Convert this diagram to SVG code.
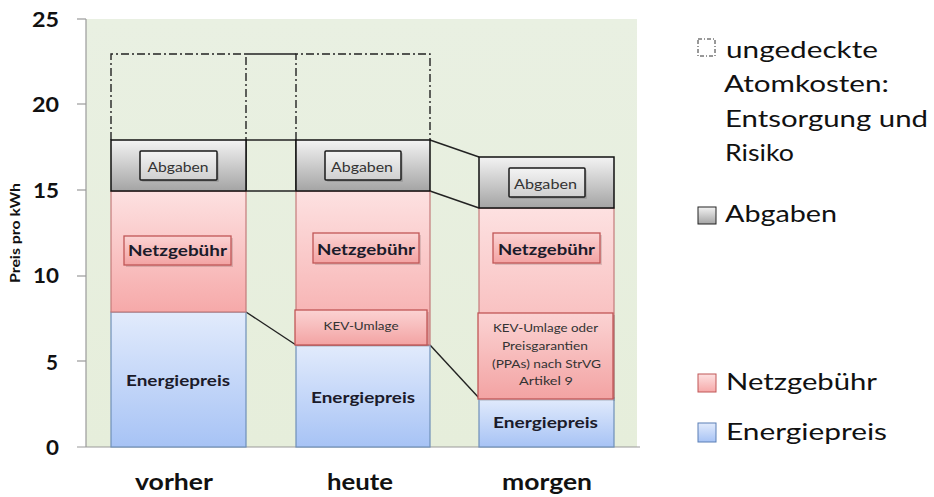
<svg xmlns="http://www.w3.org/2000/svg" width="934" height="497" viewBox="0 0 934 497">
  <style>
    text { font-family: Lato, "Open Sans", "Liberation Sans", sans-serif; fill: #111; }
    .tick { font-size: 20px; font-weight: bold; text-anchor: end; }
    .cat { font-size: 22px; font-weight: bold; text-anchor: middle; }
    .lbl { font-size: 16px; font-weight: bold; text-anchor: middle; fill: #1b1b2a; }
    .sm { font-size: 12px; text-anchor: middle; fill: #333; }
    .abg { font-size: 13px; text-anchor: middle; fill: #333; }
    .leg { font-size: 24px; }
    .energy { fill: url(#gEnergy); stroke: #6f8fb8; stroke-width: 1.2; }
    .netz { fill: url(#gNetz); stroke: #c47b7b; stroke-width: 1.2; }
    .abgaben { fill: url(#gAbg); stroke: #111; stroke-width: 1.5; }
    .tag { fill: url(#gTag); stroke: #c05656; stroke-width: 1.3; }
    .tagbox { fill: url(#gTagGray); stroke: #1a1a1a; stroke-width: 1.5; }
    .shadow { fill: #000; opacity: 0.12; }
    .dash { fill: none; stroke: #222; stroke-width: 1.4; stroke-dasharray: 8 3 2 3; }
    .link { fill: none; stroke: #222; stroke-width: 1.4; }
    .axis { stroke: #9a9a9a; stroke-width: 1.2; }
  </style>
  <defs>
    <linearGradient id="gPlot" x1="0" y1="0" x2="0" y2="1">
      <stop offset="0" stop-color="#e9f0e2"/>
      <stop offset="1" stop-color="#e6eedb"/>
    </linearGradient>
    <linearGradient id="gEnergy" x1="0" y1="0" x2="0" y2="1">
      <stop offset="0" stop-color="#e2ebfc"/>
      <stop offset="1" stop-color="#a7c3f5"/>
    </linearGradient>
    <linearGradient id="gNetz" x1="0" y1="0" x2="0" y2="1">
      <stop offset="0" stop-color="#fde1e1"/>
      <stop offset="1" stop-color="#f6a9a9"/>
    </linearGradient>
    <linearGradient id="gAbg" x1="0" y1="0" x2="0" y2="1">
      <stop offset="0" stop-color="#f3f3f3"/>
      <stop offset="1" stop-color="#a4a4a4"/>
    </linearGradient>
    <linearGradient id="gTag" x1="0" y1="0" x2="0" y2="1">
      <stop offset="0" stop-color="#fbd3d3"/>
      <stop offset="1" stop-color="#f3a3a3"/>
    </linearGradient>
    <linearGradient id="gTagGray" x1="0" y1="0" x2="0" y2="1">
      <stop offset="0" stop-color="#f4f4f4"/>
      <stop offset="1" stop-color="#cfcfcf"/>
    </linearGradient>
  </defs>

  <rect width="934" height="497" fill="#ffffff"/>

  <!-- plot area and value axis -->
  <g id="plot">
    <rect x="86" y="19" width="551" height="428" fill="url(#gPlot)"/>
    <line class="axis" x1="86" y1="19" x2="86" y2="447"/>
    <line class="axis" x1="77" y1="447" x2="640" y2="447"/>
    <line class="axis" x1="77" y1="19" x2="86" y2="19"/>
    <line class="axis" x1="77" y1="104" x2="86" y2="104"/>
    <line class="axis" x1="77" y1="190" x2="86" y2="190"/>
    <line class="axis" x1="77" y1="276" x2="86" y2="276"/>
    <line class="axis" x1="77" y1="361" x2="86" y2="361"/>
    <text class="tick" x="59" y="27" textLength="27" lengthAdjust="spacingAndGlyphs">25</text>
    <text class="tick" x="59" y="112" textLength="27" lengthAdjust="spacingAndGlyphs">20</text>
    <text class="tick" x="59" y="198" textLength="26" lengthAdjust="spacingAndGlyphs">15</text>
    <text class="tick" x="59" y="283" textLength="26" lengthAdjust="spacingAndGlyphs">10</text>
    <text class="tick" x="58" y="370" textLength="12" lengthAdjust="spacingAndGlyphs">5</text>
    <text class="tick" x="59" y="455" textLength="13" lengthAdjust="spacingAndGlyphs">0</text>
    <text x="20" y="233" font-size="13" font-weight="bold" text-anchor="middle" textLength="100" lengthAdjust="spacingAndGlyphs" transform="rotate(-90 20 233)">Preis pro kWh</text>
  </g>

  <!-- connectors between the bars -->
  <g id="connectors">
    <polyline class="dash" points="111,140 111,54 246,54 246,140"/>
    <polyline class="dash" points="296,140 296,54 430,54 430,140"/>
    <line class="link" x1="246" y1="54" x2="296" y2="54"/>
    <line class="link" x1="246" y1="140" x2="296" y2="140"/>
    <line class="link" x1="246" y1="191" x2="296" y2="191"/>
    <line class="link" x1="246" y1="191" x2="246" y2="140"/>
    <line class="link" x1="296" y1="191" x2="296" y2="140"/>
    <line class="link" x1="430" y1="140" x2="479" y2="157"/>
    <line class="link" x1="430" y1="191" x2="479" y2="208"/>
    <line class="link" x1="246" y1="312" x2="296" y2="345"/>
    <line class="link" x1="430" y1="345" x2="479" y2="398"/>
  </g>

  <!-- bar: vorher -->
  <g id="vorher">
    <rect class="energy" x="111" y="312" width="135" height="135"/>
    <rect class="netz" x="111" y="191" width="135" height="121"/>
    <rect class="abgaben" x="111" y="140" width="135" height="51"/>
    <rect class="shadow" x="142" y="153" width="77" height="29" rx="1"/>
    <rect class="tagbox" x="140" y="151" width="77" height="29" rx="1"/>
    <text class="abg" x="178" y="172" textLength="61" lengthAdjust="spacingAndGlyphs">Abgaben</text>
    <rect class="shadow" x="126" y="238" width="107" height="29"/>
    <rect class="tag" x="124" y="236" width="107" height="29"/>
    <text class="lbl" x="177.5" y="256" textLength="99" lengthAdjust="spacingAndGlyphs">Netzgebühr</text>
    <text class="lbl" x="178" y="386" textLength="104" lengthAdjust="spacingAndGlyphs">Energiepreis</text>
    <text class="cat" x="174" y="490" textLength="78" lengthAdjust="spacingAndGlyphs">vorher</text>
  </g>

  <!-- bar: heute -->
  <g id="heute">
    <rect class="energy" x="296" y="345" width="134" height="102"/>
    <rect class="netz" x="296" y="191" width="134" height="154"/>
    <rect class="shadow" x="297" y="312" width="132" height="35"/>
    <rect class="tag" x="295" y="310" width="132" height="35"/>
    <text class="sm" x="361" y="330" textLength="75" lengthAdjust="spacingAndGlyphs">KEV-Umlage</text>
    <rect class="abgaben" x="296" y="140" width="134" height="51"/>
    <rect class="shadow" x="327" y="153" width="76" height="29" rx="1"/>
    <rect class="tagbox" x="325" y="151" width="76" height="29" rx="1"/>
    <text class="abg" x="362" y="172" textLength="62" lengthAdjust="spacingAndGlyphs">Abgaben</text>
    <rect class="shadow" x="315" y="235" width="106" height="30"/>
    <rect class="tag" x="313" y="233" width="106" height="30"/>
    <text class="lbl" x="366" y="255" textLength="98" lengthAdjust="spacingAndGlyphs">Netzgebühr</text>
    <text class="lbl" x="363" y="403" textLength="104" lengthAdjust="spacingAndGlyphs">Energiepreis</text>
    <text class="cat" x="360" y="490" textLength="66" lengthAdjust="spacingAndGlyphs">heute</text>
  </g>

  <!-- bar: morgen -->
  <g id="morgen">
    <rect class="energy" x="479" y="398" width="135" height="49"/>
    <rect class="netz" x="479" y="208" width="135" height="190"/>
    <rect class="shadow" x="480" y="315" width="135" height="86"/>
    <rect class="tag" x="478" y="313" width="135" height="86"/>
    <text class="sm" x="545.5" y="332" textLength="105" lengthAdjust="spacingAndGlyphs">KEV-Umlage oder</text>
    <text class="sm" x="545" y="350" textLength="86" lengthAdjust="spacingAndGlyphs">Preisgarantien</text>
    <text class="sm" x="546.5" y="368" textLength="109" lengthAdjust="spacingAndGlyphs">(PPAs) nach StrVG</text>
    <text class="sm" x="546" y="385" textLength="54" lengthAdjust="spacingAndGlyphs">Artikel 9</text>
    <rect class="abgaben" x="479" y="157" width="135" height="51"/>
    <rect class="shadow" x="511" y="170" width="76" height="29" rx="1"/>
    <rect class="tagbox" x="509" y="168" width="76" height="29" rx="1"/>
    <text class="abg" x="545.5" y="189" textLength="63" lengthAdjust="spacingAndGlyphs">Abgaben</text>
    <rect class="shadow" x="495" y="235" width="107" height="30"/>
    <rect class="tag" x="493" y="233" width="107" height="30"/>
    <text class="lbl" x="546.5" y="255" textLength="97" lengthAdjust="spacingAndGlyphs">Netzgebühr</text>
    <text class="lbl" x="545.5" y="428" textLength="105" lengthAdjust="spacingAndGlyphs">Energiepreis</text>
    <text class="cat" x="547" y="490" textLength="90" lengthAdjust="spacingAndGlyphs">morgen</text>
  </g>

  <!-- legend -->
  <g id="legend">
    <rect x="698" y="39" width="17" height="17" fill="none" stroke="#333" stroke-width="1" stroke-dasharray="4 2 1 2"/>
    <text class="leg" x="726" y="58" textLength="152" lengthAdjust="spacingAndGlyphs">ungedeckte</text>
    <text class="leg" x="724" y="92" textLength="165" lengthAdjust="spacingAndGlyphs">Atomkosten:</text>
    <text class="leg" x="725" y="127" textLength="203" lengthAdjust="spacingAndGlyphs">Entsorgung und</text>
    <text class="leg" x="725" y="161" textLength="69" lengthAdjust="spacingAndGlyphs">Risiko</text>
    <rect x="698" y="207" width="18" height="17" fill="url(#gAbg)" stroke="#222" stroke-width="1"/>
    <text class="leg" x="725" y="222" textLength="112" lengthAdjust="spacingAndGlyphs">Abgaben</text>
    <rect x="698" y="374" width="18" height="18" fill="url(#gNetz)" stroke="#c05656" stroke-width="1"/>
    <text class="leg" x="726" y="390" textLength="151" lengthAdjust="spacingAndGlyphs">Netzgebühr</text>
    <rect x="698" y="423" width="18" height="19" fill="url(#gEnergy)" stroke="#5a7fb5" stroke-width="1"/>
    <text class="leg" x="726" y="440" textLength="161" lengthAdjust="spacingAndGlyphs">Energiepreis</text>
  </g>
</svg>
